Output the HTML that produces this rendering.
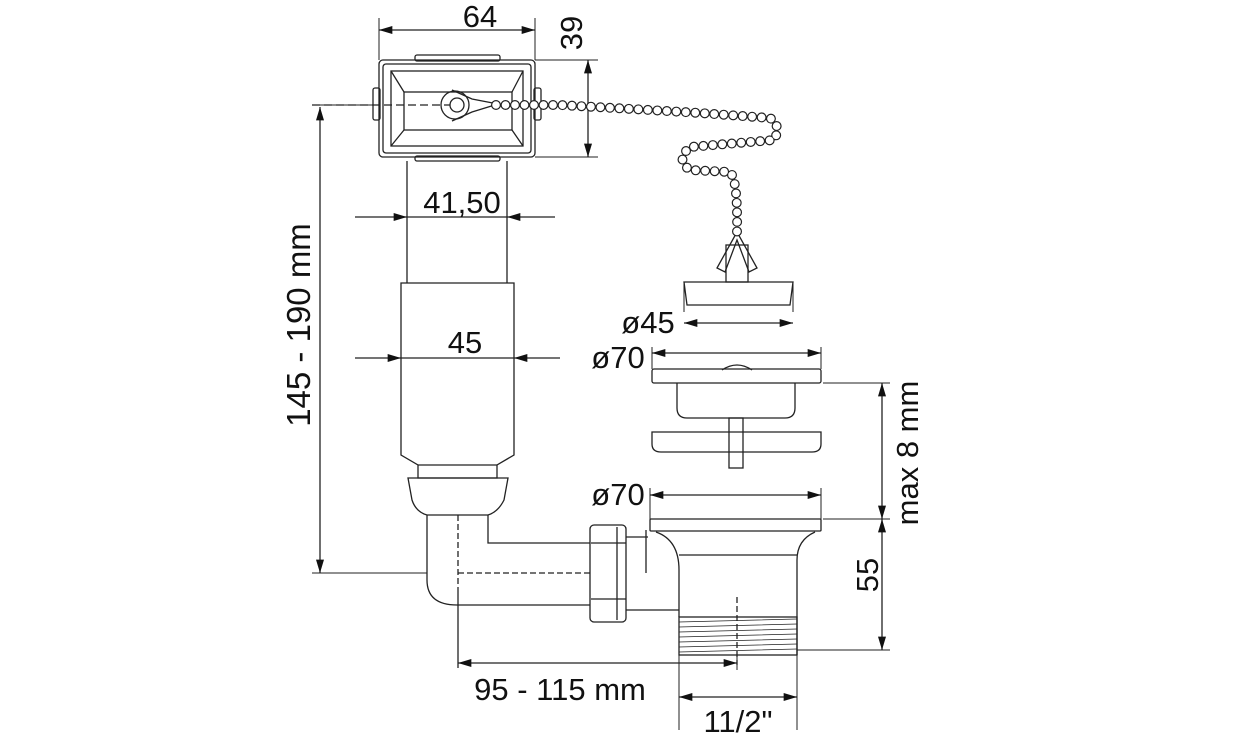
<!DOCTYPE html>
<html><head><meta charset="utf-8"><style>
html,body{margin:0;padding:0;background:#fff}
svg{display:block}
text{font-family:"Liberation Sans Narrow","Liberation Sans",sans-serif;font-size:31px;fill:#111}
</style></head><body>
<svg width="1252" height="742" viewBox="0 0 1252 742" xmlns="http://www.w3.org/2000/svg">
<defs>
<marker id="a" viewBox="0 0 10 6" refX="10" refY="3" markerWidth="26" markerHeight="8" markerUnits="userSpaceOnUse" orient="auto-start-reverse"><path d="M0,0L10,3L0,6z" fill="#111"/></marker>
</defs>
<g fill="none" stroke="#222" stroke-width="1.3">
<rect x="415" y="55" width="85" height="6" rx="2"/>
<rect x="415" y="156" width="85" height="5" rx="2"/>
<rect x="373" y="88" width="7" height="32" rx="2"/>
<rect x="534" y="88" width="7" height="32" rx="2"/>
<rect x="379" y="60" width="156" height="97" rx="4"/>
<rect x="383" y="64" width="148" height="89" rx="3"/>
<rect x="391" y="71" width="132" height="75"/>
<rect x="404" y="92" width="108" height="38"/>
<path d="M391,71L404,92M523,71L512,92M391,146L404,130M523,146L512,130"/>
<circle cx="455" cy="105" r="14"/><circle cx="457" cy="105" r="7"/>
<path d="M452,90L472,99L498,104L472,112L452,121" />
<path d="M312,105H450" stroke-dasharray="8 4"/>
<path d="M407,161V283M507,161V283"/>
<path d="M401,283H514V455L497,465V478H418V465L401,455Z"/>
<path d="M418,465H497"/>
<path d="M408,478H508L504,500Q498,512 488,515H427Q416,512 412,500Z"/>
<path d="M427,515V580Q427,605 457,605H590M488,515V543H590"/>
<path d="M458,515V590M458,573H590" stroke-dasharray="6 3"/>
<path d="M458,590V668"/>
<rect x="590" y="525" width="36" height="97" rx="4"/>
<path d="M617,527V620M591,543H626M591,599H626"/>
<path d="M626,537H648M626,610H679M646,530V573"/>
<rect x="650" y="519" width="171" height="12" rx="1"/>
<path d="M656,532Q679,540 679,570V617M815,532Q797,540 797,560V655M679,555H797"/>
<rect x="679" y="617" width="118" height="38"/>
<path d="M679,622L797,619M679,627L797,624M679,632L797,629M679,637L797,634M679,642L797,639M679,647L797,644M679,652L797,649" stroke-width="0.8"/>
<path d="M737,597V665" stroke-dasharray="6 3"/>
<rect x="652" y="369" width="169" height="14" rx="2"/>
<path d="M677,383V408Q677,418 687,418H785Q795,418 795,408V383"/>
<path d="M722,370Q737,360 752,370"/>
<path d="M652,432H821V444Q821,452 812,452H661Q652,452 652,444Z"/>
<rect x="729" y="418" width="14" height="50"/>
<path d="M684,282H793L790,305H687Z"/>
<rect x="726" y="245" width="22" height="37"/>
<path d="M737,232L717,268L725,272L737,240L749,272L757,268Z"/>
<path d="M379,18V60M535,18V60M535,60H598M535,157H598M312,105H373M312,573H427M823,383H890M823,519H890M797,650H890M679,655V730M797,655V730M737,655V670M650,488V519M821,488V519M652,347V369M821,347V369M684,312V282M793,312V282" stroke-width="1"/>
<path d="M379,30H535" marker-start="url(#a)" marker-end="url(#a)"/>
<path d="M588,60V157" marker-start="url(#a)" marker-end="url(#a)"/>
<path d="M355,217H407" marker-end="url(#a)"/>
<path d="M555,217H507" marker-end="url(#a)"/>
<path d="M407,217H507"/>
<path d="M355,358H401" marker-end="url(#a)"/>
<path d="M560,358H514" marker-end="url(#a)"/>
<path d="M401,358H514"/>
<path d="M320,107V573" marker-start="url(#a)" marker-end="url(#a)"/>
<path d="M882,383V519" marker-start="url(#a)" marker-end="url(#a)"/>
<path d="M882,519V650" marker-start="url(#a)" marker-end="url(#a)"/>
<path d="M458,663H737" marker-start="url(#a)" marker-end="url(#a)"/>
<path d="M679,697H797" marker-start="url(#a)" marker-end="url(#a)"/>
<path d="M650,495H821" marker-start="url(#a)" marker-end="url(#a)"/>
<path d="M652,353H821" marker-start="url(#a)" marker-end="url(#a)"/>
<path d="M684,323H793" marker-start="url(#a)" marker-end="url(#a)"/>
<path d="M496,105L560,105L650,110L700,113L770,118Q782,126 774,140L690,147Q675,160 690,170L730,172Q738,180 737,232" stroke="#222" stroke-width="10" stroke-linecap="round" stroke-dasharray="0 9.5"/>
<path d="M496,105L560,105L650,110L700,113L770,118Q782,126 774,140L690,147Q675,160 690,170L730,172Q738,180 737,232" stroke="#fff" stroke-width="7.6" stroke-linecap="round" stroke-dasharray="0 9.5"/>
</g>
<text x="480" y="27" text-anchor="middle">64</text>
<text transform="translate(582,33) rotate(-90)" text-anchor="middle">39</text>
<text x="462" y="213" text-anchor="middle">41,50</text>
<text x="465" y="353" text-anchor="middle">45</text>
<text transform="translate(310,325) rotate(-90)" text-anchor="middle" style="font-size:33px">145 - 190 mm</text>
<text x="648" y="333" text-anchor="middle">ø45</text>
<text x="618" y="368" text-anchor="middle">ø70</text>
<text x="618" y="505" text-anchor="middle">ø70</text>
<text transform="translate(918,453) rotate(-90)" text-anchor="middle">max 8 mm</text>
<text transform="translate(878,575) rotate(-90)" text-anchor="middle">55</text>
<text x="560" y="700" text-anchor="middle">95 - 115 mm</text>
<text x="738" y="732" text-anchor="middle">11/2"</text>
</svg>
</body></html>
